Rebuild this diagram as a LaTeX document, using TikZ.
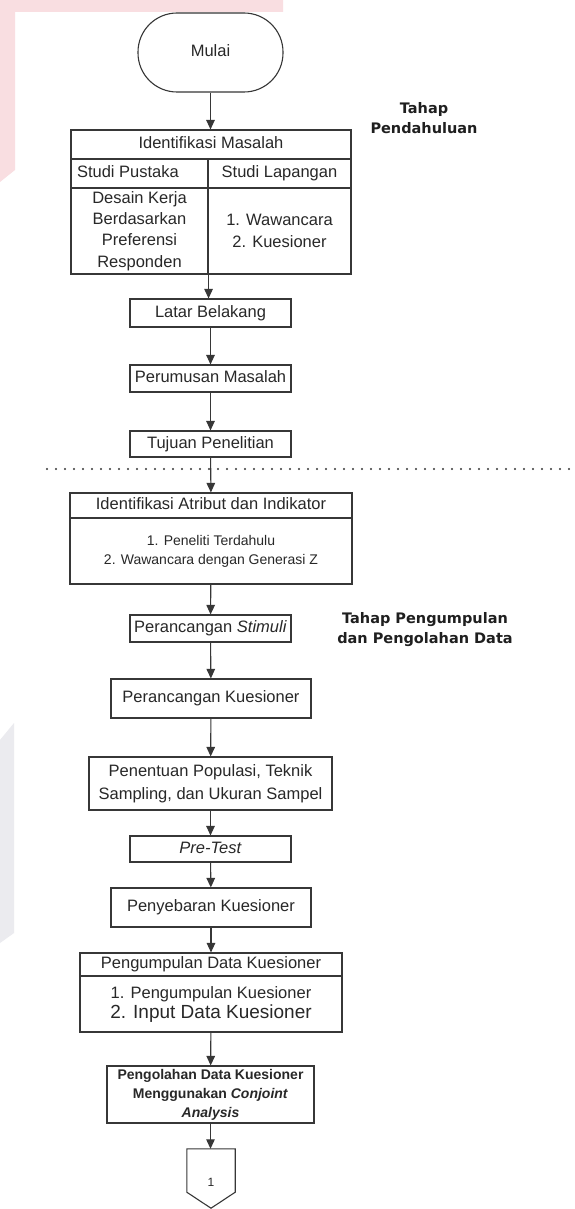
\documentclass[tikz,border=0pt]{standalone}
\usepackage{fontspec}
\setmainfont{Liberation Sans}
\newfontfamily\lblfont{DejaVu Sans}
\usetikzlibrary{arrows.meta}
\definecolor{ln}{RGB}{55,55,55}
\definecolor{tx}{RGB}{40,40,40}
\definecolor{wmpink}{RGB}{249,222,225}
\definecolor{wmgray}{RGB}{235,235,239}
\begin{document}
\begin{tikzpicture}[x=1pt,y=-1pt,
  box/.style={draw=ln,line width=1.1pt,rectangle,inner sep=0pt,align=center,text=tx,
    font=\fontsize{16.5}{20}\selectfont},
  oneline/.style={text height=12pt,text depth=3.5pt},
  arr/.style={draw=ln,line width=1.1pt,-{Triangle[length=9.5pt,width=8.5pt]}},
  lbl/.style={align=center,text=black!88,font=\lblfont\bfseries\fontsize{14.5}{20}\selectfont},
  sep/.style={draw=ln,line width=2.3pt,line cap=round,dash pattern=on 0pt off 9pt}]
\fill[white] (0,0) rectangle (575,1209);
\useasboundingbox (0,0) rectangle (575,1209);
% watermark remnants
\fill[wmpink] (0,0) -- (283,0) -- (283,12) -- (15,12) -- (15,170) -- (0,182) -- cycle;
\fill[wmgray] (0,740) -- (14,723) -- (14,933) -- (0,943) -- cycle;

% start
\node[box,oneline,minimum width=145pt,minimum height=79pt,rounded corners=39pt] (mulai) at (210.5,52.5) {Mulai};

% Identifikasi Masalah table
\node[box,oneline,minimum width=280pt,minimum height=29pt] (imh) at (211,144.5) {Identifikasi Masalah};
\node[box,oneline,minimum width=137pt,minimum height=29pt] (sp) at (139.5,173.5) {\makebox[125pt][l]{Studi Pustaka}};
\node[box,oneline,minimum width=143pt,minimum height=29pt] (sl) at (279.5,173.5) {Studi Lapangan};
\node[box,minimum width=137pt,minimum height=86pt,font=\fontsize{16.5}{21.4}\selectfont] (dk) at (139.5,231) {Desain Kerja\\Berdasarkan\\Preferensi\\Responden};
\node[box,minimum width=143pt,minimum height=86pt,font=\fontsize{16.5}{22}\selectfont] (ws) at (279.5,231) {1. Wawancara\\2. Kuesioner};

\node[box,oneline,minimum width=161pt,minimum height=28pt] (lb) at (210.5,313) {Latar Belakang};
\node[box,oneline,minimum width=161pt,minimum height=27pt] (pm) at (210.5,378.5) {Perumusan Masalah};
\node[box,oneline,minimum width=161pt,minimum height=26pt] (tj) at (210.5,444) {Tujuan Penelitian};

% separator
\coordinate (sl1) at (47,469);
\coordinate (sl2) at (575,469);
\draw[sep] (sl1) -- (sl2);

\node[box,oneline,minimum width=282pt,minimum height=25pt] (iah) at (211,505.5) {Identifikasi Atribut dan Indikator};
\node[box,minimum width=282pt,minimum height=66pt,font=\fontsize{14}{19}\selectfont] (iab) at (211,551) {1. Peneliti Terdahulu\\2. Wawancara dengan Generasi Z};

\node[box,oneline,minimum width=161pt,minimum height=27pt] (st) at (210.5,628.5) {Perancangan \textit{Stimuli}};
\node[box,oneline,minimum width=200pt,minimum height=39pt] (kq) at (211,698.5) {Perancangan Kuesioner};
\node[box,minimum width=243pt,minimum height=53pt,font=\fontsize{16.5}{23}\selectfont] (pp) at (210.5,783.5) {Penentuan Populasi, Teknik\\Sampling, dan Ukuran Sampel};
\node[box,oneline,minimum width=161pt,minimum height=26pt] (pt) at (210.5,849) {\textit{Pre-Test}};
\node[box,oneline,minimum width=200pt,minimum height=39pt] (pk) at (211,907.5) {Penyebaran Kuesioner};
\node[box,oneline,minimum width=262pt,minimum height=23pt] (pdh) at (211,964.5) {Pengumpulan Data Kuesioner};
\node[box,minimum width=262pt,minimum height=56pt] (pdb) at (211,1004) {\fontsize{16.5}{23}\selectfont 1. Pengumpulan Kuesioner\\\fontsize{19}{23}\selectfont 2. Input Data Kuesioner};
\node[box,minimum width=207pt,minimum height=57pt,font=\bfseries\fontsize{14}{19}\selectfont] (pg) at (210.5,1094.5) {Pengolahan Data Kuesioner\\Menggunakan \textit{Conjoint}\\\textit{Analysis}};

% off-page connector
\node[inner sep=0pt,minimum width=48pt,minimum height=59pt] (op) at (211,1178.5) {};
\draw[draw=ln,line width=1.1pt,line join=miter] (op.north west) -- (op.north east) -- ([yshift=16pt]op.south east) -- (op.south) -- ([yshift=16pt]op.south west) -- cycle;
\node[text=tx,font=\fontsize{12}{14}\selectfont] (opn) at (211,1182) {1};

% labels
\node[lbl] (t1) at (424,118) {Tahap\\Pendahuluan};
\node[lbl] (t2) at (425,630) {Tahap Pengumpulan\\dan Pengolahan Data};

% connectors
\draw[arr] (mulai.south) -- (mulai.south |- imh.north);
\draw[arr] (sp.north east) -- (sp.north east |- lb.north);
\draw[arr] (lb) -- (pm);
\draw[arr] (pm) -- (tj);
\draw[arr] (tj) -- (iah);
\draw[arr] (iab) -- (st);
\draw[arr] (st) -- (kq);
\draw[arr] (kq) -- (pp);
\draw[arr] (pp) -- (pt);
\draw[arr] (pt) -- (pk);
\draw[arr] (pk) -- (pdh);
\draw[arr] (pdb) -- (pg);
\draw[arr] (pg.south) -- (pg.south |- op.north);
\end{tikzpicture}
\end{document}
